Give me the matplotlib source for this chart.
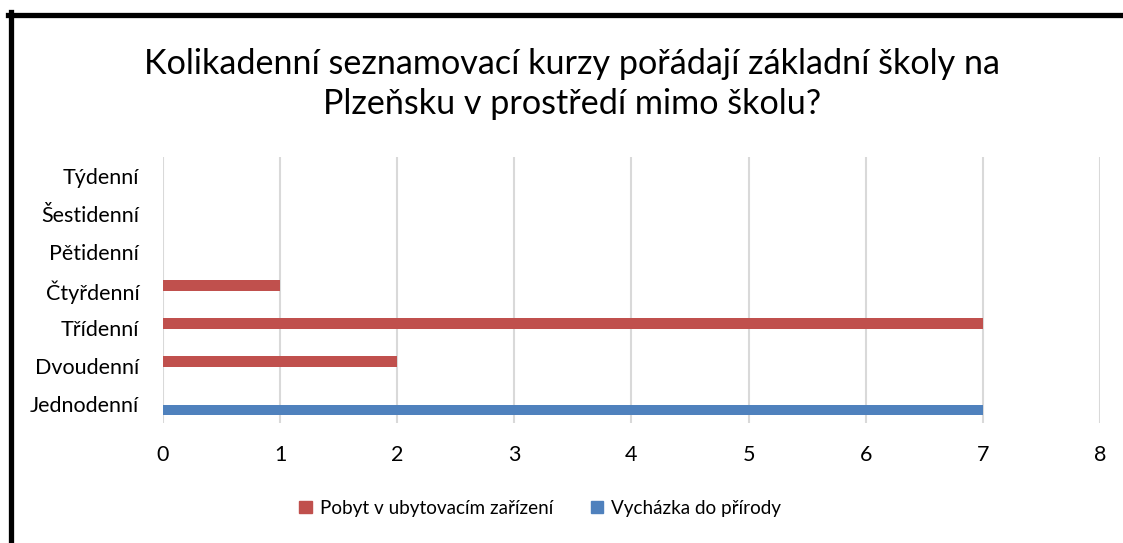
import matplotlib.pyplot as plt
from matplotlib.lines import Line2D
from matplotlib.patches import Patch
import numpy as np

plt.rcParams["font.family"] = ["Lato", "DejaVu Sans"]

categories = ["Jednodenní", "Dvoudenní", "Třídenní", "Čtyřdenní",
              "Pětidenní", "Šestidenní", "Týdenní"]
pobyt = [0, 2, 7, 1, 0, 0, 0]
vychazka = [7, 0, 0, 0, 0, 0, 0]
series_names = ["Pobyt v ubytovacím zařízení", "Vycházka do přírody"]
title = "Kolikadenní seznamovací kurzy pořádají základní školy na\nPlzeňsku v prostředí mimo školu?"

red = "#C0504D"
blue = "#4F81BD"

fig = plt.figure(figsize=(11.23, 5.43), dpi=100)
ax = fig.add_axes([0.1451, 0.221, 0.8344, 0.490])

y = np.arange(len(categories))
h = 0.27
ax.barh(y + 0.12, pobyt, height=h, color=red, zorder=3)
ax.barh(y - 0.16, vychazka, height=h, color=blue, zorder=3)

ax.set_xlim(0, 8)
ax.set_ylim(-0.5, len(categories) - 0.5)
ax.set_xticks(range(0, 9))
ax.set_yticks(y)
ax.set_yticklabels(categories)
ax.tick_params(axis="both", length=0, labelsize=15.5, colors="black")
ax.tick_params(axis="x", pad=16)
ax.tick_params(axis="y", pad=17)
ax.grid(axis="x", color="#d9d9d9", linewidth=1.5, zorder=0)
for s in ax.spines.values():
    s.set_visible(False)

fig.text(0.509, 0.846, title, ha="center", va="center", fontsize=24.6,
         linespacing=1.3)

handles = [Patch(color=red, label=series_names[0]),
           Patch(color=blue, label=series_names[1])]
fig.legend(handles=handles, loc="center", bbox_to_anchor=(0.481, 0.064),
           ncol=2, frameon=False, fontsize=13.6, handlelength=0.65,
           handleheight=0.65, handletextpad=0.42, columnspacing=2.0)

# black frame (left and top edges only are visible)
fig.add_artist(Line2D([10.5 / 1123, 10.5 / 1123], [0, 1 - 12 / 543],
                      transform=fig.transFigure, color="black", linewidth=3.8))
fig.add_artist(Line2D([8 / 1123, 1], [1 - 14.5 / 543, 1 - 14.5 / 543],
                      transform=fig.transFigure, color="black", linewidth=3.8))

fig.savefig("out.png", dpi=100)
